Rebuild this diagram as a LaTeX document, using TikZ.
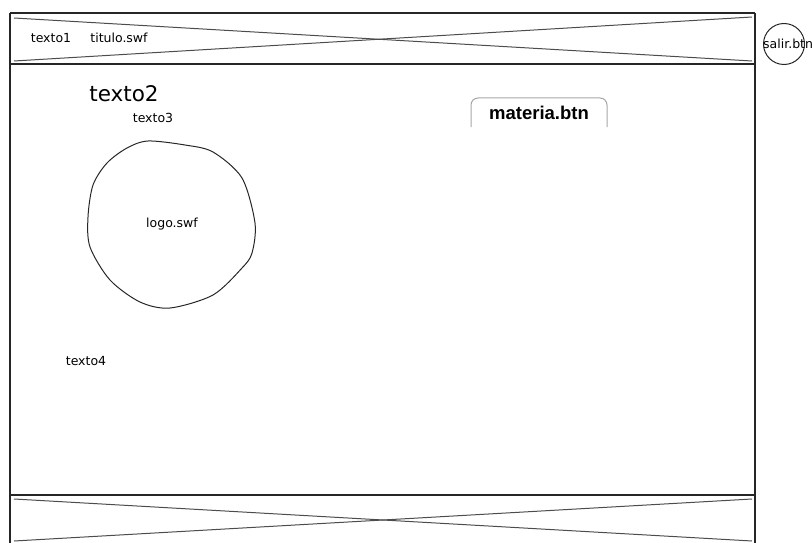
\documentclass[tikz,border=0pt]{standalone}
\usepackage{fontspec}
\setmainfont{DejaVu Sans}
\newfontfamily\btnfont{Liberation Sans}
\begin{document}
\begin{tikzpicture}[x=1pt, y=-1pt,
        frame/.style={black!85, line width=1.3pt},
        cross/.style={black!70, line width=1pt},
        txt/.style={inner sep=0pt, font=\fontsize{12.5}{13}\selectfont}]
    \useasboundingbox (0,0) rectangle (812,543);
        % outer frame
        \draw
            [frame, line width=2pt] (10,13)--(755,13);
        \draw
            [frame] (10,13)--(10,543);
        \draw
            [frame] (755,13)--(755,543);
        % header bar
        \draw
            [frame] (10,64)--(755,64);
        \draw
            [cross] (14,18)--(752,61);
        \draw
            [cross] (14,61)--(752,17);
        \node[txt] (texto1) at (51,38) {texto1};
        \node[txt] (titulo) at (119,38) {titulo.swf};
        % footer bar
        \draw
            [frame] (10,495)--(755,495);
        \draw
            [cross] (14,499)--(752,541);
        \draw
            [cross] (14,541)--(752,499);
        % texts
        \node[txt, font=\fontsize{21.5}{23}\selectfont] (texto2) at (124,94) {texto2};
        \node[txt] (texto3) at (153,118) {texto3};
        \node[txt] (texto4) at (86,361) {texto4};
        % logo
        \draw
            [black!85, line width=1pt] plot[smooth cycle] coordinates {
            (148,141) (185,145) (213,152) (242,178) (255,223) (252,253)
            (242,268) (213,295) (170,308) (140,302) (110,280) (90,247)
            (88,217) (93,185) (107,163) (127,148)};
        \node[txt] (logo) at (172,224) {logo.swf};
        % materia tab
        \draw
            [black!35, line width=1pt, rounded corners=7pt] (471,127)--(471,98)--(607,98)--(607,127);
        \node[inner sep=0pt, font=\btnfont\bfseries\fontsize{18.5}{19}\selectfont] (materia) at (539,113) {materia.btn};
        % salir button
        \node[draw, circle, black!85, line width=1pt, minimum size=41pt, inner sep=0pt] (salir) at (784,44) {};
        \node[txt, anchor=west] (salirtxt) at (763,44) {salir.btn};
\end{tikzpicture}
\end{document}
